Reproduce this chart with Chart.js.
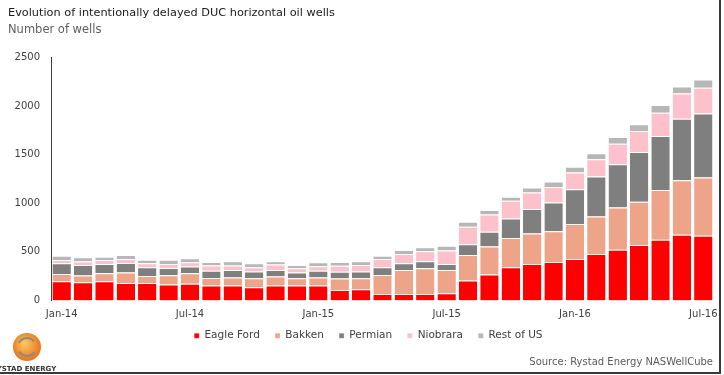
<!DOCTYPE html>
<html>
<head>
<meta charset="utf-8">
<script src="https://cdn.jsdelivr.net/npm/chart.js@4/dist/chart.umd.min.js"></script>
<style>
  html, body { margin: 0; padding: 0; background: #fff; }
  #wrap { width: 724px; height: 375px; position: relative; }
</style>
</head>
<body>
<div id="wrap"><canvas id="myChart"></canvas></div>
<script>
// months Jan-14 .. Jul-16
var months = ["Jan-14","Feb-14","Mar-14","Apr-14","May-14","Jun-14","Jul-14","Aug-14","Sep-14","Oct-14","Nov-14","Dec-14",
              "Jan-15","Feb-15","Mar-15","Apr-15","May-15","Jun-15","Jul-15","Aug-15","Sep-15","Oct-15","Nov-15","Dec-15",
              "Jan-16","Feb-16","Mar-16","Apr-16","May-16","Jun-16","Jul-16"];
var eagleFord = [198,188,198,181,181,164,171,154,154,137,154,154,154,109,115,68,68,68,75,205,267,342,376,397,427,478,523,571,625,677,666];
var bakken    = [75,68,82,106,72,96,109,78,82,92,92,75,82,116,114,195,246,263,239,263,288,300,314,314,359,386,434,444,510,560,598];
var permian   = [110,110,96,99,89,75,69,75,78,68,68,58,71,70,68,79,69,72,62,111,152,202,250,297,359,410,444,512,556,632,660];
var niobrara  = [34,34,41,41,41,41,44,52,45,45,55,44,45,63,69,85,95,103,137,180,178,181,170,160,170,178,212,216,239,260,263];
var restOfUS  = [44,44,34,41,37,44,41,37,44,41,34,35,41,38,37,34,41,41,51,51,45,41,52,55,59,62,68,68,79,71,85];
var yTicks = [0, 500, 1000, 1500, 2000, 2500];

var font = "'DejaVu Sans', Verdana, sans-serif";
Chart.defaults.font.family = font;
Chart.defaults.color = '#404040';

function ds(label, data, colour) {
    return {
        label: label,
        data: data,
        backgroundColor: colour,
        borderColor: '#ffffff',
        borderWidth: { top: 1, bottom: 0, left: 0, right: 0 },
        borderSkipped: false,
        categoryPercentage: 0.86,
        barPercentage: 1.0
    };
}

// frame, logo and source line
var extras = {
    id: 'extras',
    afterLayout: function(chart) {
        // legend sits a little right of centre in the original
        chart.legend.left += 10;
        chart.legend.right += 10;
    },
    afterDraw: function(chart) {
        var c = chart.ctx;
        c.save();
        c.fillStyle = '#5a5a5a';
        c.font = "10px " + font;
        c.textAlign = 'right';
        c.textBaseline = 'middle';
        c.fillText('Source: Rystad Energy NASWellCube', 713, 362);

        // logo
        var g = c.createRadialGradient(24, 343, 2, 27, 346, 15);
        g.addColorStop(0, '#fbc25a');
        g.addColorStop(1, '#e8741a');
        c.fillStyle = g;
        c.beginPath(); c.arc(27, 347, 14, 0, Math.PI * 2); c.fill();
        c.strokeStyle = '#8a8a8a'; c.lineWidth = 2;
        c.beginPath(); c.arc(27, 347, 9, 0.6, 2.6); c.stroke();
        c.beginPath(); c.arc(27, 347, 9, 3.6, 5.6); c.stroke();
        c.fillStyle = '#333';
        c.font = "bold 7px " + font;
        c.textAlign = 'center';
        c.fillText('RYSTAD ENERGY', 24, 369);

        // frame
        c.fillStyle = '#3a3a3a';
        c.fillRect(719, 0, 2, 374);
        c.fillRect(0, 372, 721, 2);
        c.restore();
    }
};

var ctx = document.getElementById('myChart').getContext('2d');
var chart = new Chart(ctx, {
    type: 'bar',
    data: {
        labels: months,
        datasets: [
            ds('Eagle Ford', eagleFord, '#ff0000'),
            ds('Bakken', bakken, '#eea488'),
            ds('Permian', permian, '#7f7f7f'),
            ds('Niobrara', niobrara, '#fdc1cb'),
            ds('Rest of US', restOfUS, '#b7b7b7')
        ]
    },
    options: {
        responsive: true,
        maintainAspectRatio: false,
        animation: false,
        layout: { padding: { left: 8, right: 10, top: 0, bottom: 24 } },
        plugins: {
            title: {
                display: true,
                text: 'Evolution of intentionally delayed DUC horizontal oil wells',
                align: 'start',
                color: '#1a1a1a',
                font: { size: 11.3, weight: 'normal' },
                padding: { top: 6, bottom: 2 }
            },
            subtitle: {
                display: true,
                text: 'Number of wells',
                align: 'start',
                color: '#5f5f5f',
                font: { size: 11.5 },
                padding: { top: 2, bottom: 20 }
            },
            legend: {
                position: 'bottom',
                labels: {
                    usePointStyle: true,
                    pointStyle: 'rect',
                    boxWidth: 5,
                    boxHeight: 5,
                    padding: 10,
                    color: '#404040',
                    font: { size: 10.5 },
                    generateLabels: function(ch) {
                        var items = Chart.defaults.plugins.legend.labels.generateLabels(ch);
                        items.forEach(function(it) { it.text = it.text + '\u2002'; });
                        return items;
                    }
                }
            },
            tooltip: { enabled: false }
        },
        scales: {
            x: {
                stacked: true,
                grid: { display: false },
                border: { display: false },
                ticks: {
                    autoSkip: false,
                    maxRotation: 0,
                    font: { size: 10 },
                    color: '#404040',
                    padding: 0,
                    callback: function(v, i) { return i % 6 === 0 ? months[i] : ''; }
                }
            },
            y: {
                stacked: true,
                min: 0,
                max: 2500,
                afterBuildTicks: function(axis) { axis.ticks = yTicks.map(function(v) { return { value: v }; }); },
                afterFit: function(axis) { axis.width = 43; },
                grid: { display: false },
                border: { display: true, color: '#404040', width: 1 },
                ticks: {
                    font: { size: 10 },
                    color: '#404040',
                    padding: 3,
                    callback: function(v) { return String(v); }
                }
            }
        }
    },
    plugins: [extras]
});
</script>
</body>
</html>
